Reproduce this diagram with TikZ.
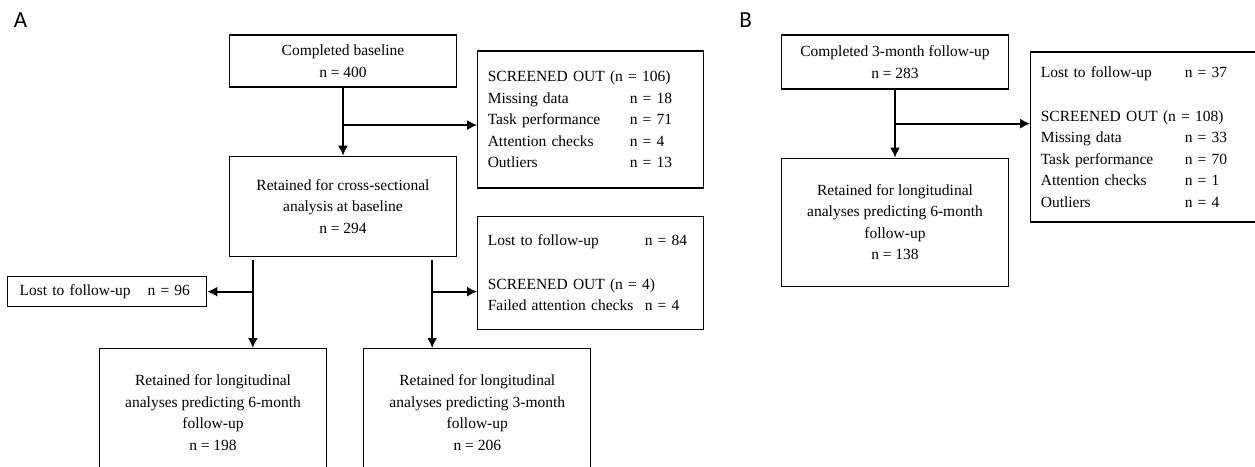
\documentclass[tikz,border=0pt]{standalone}
\usepackage{fontspec}
\setmainfont{Liberation Serif}
\newfontfamily\panelfont{Carlito}
\usepackage{tikz}
\usetikzlibrary{positioning}
\usetikzlibrary{arrows.meta}
\usetikzlibrary{calc}

\newcommand{\countrow}[3]{\makebox[#1][l]{#2}#3}

\begin{document}
\begin{tikzpicture}[x=1pt, y=-1pt,
font=\fontsize{15.5}{21.5}\selectfont,
flowbox/.style={rectangle, draw=black, line width=1.3pt, align=center, minimum width=227pt, inner sep=0pt},
listbox/.style={rectangle, draw=black, line width=1.3pt, align=left, anchor=north west, inner xsep=10pt, inner ysep=0pt},
flowarrow/.style={line width=1.8pt, -{Latex[length=10pt,width=10pt]}},
panellabel/.style={font=\panelfont\fontsize{23}{26}\selectfont, inner sep=0pt},
]
\useasboundingbox (0,0) rectangle (1255,466);
\clip (0,0) rectangle (1255,466);

%Panel A
\node[panellabel] (labA) at (20.5,20) {A};
\node[flowbox, minimum height=52pt] (base) at (343,61) {Completed baseline\\n = 400};
\node[listbox, text width=206pt, minimum height=137pt] (scr1) [below right=16pt and 20pt of base.north east]
  {SCREENED OUT (n = 106)\\
   \countrow{142pt}{Missing data}{n = 18}\\
   \countrow{142pt}{Task performance}{n = 71}\\
   \countrow{142pt}{Attention checks}{n = 4}\\
   \countrow{142pt}{Outliers}{n = 13}};
\node[flowbox, minimum height=100pt] (ret) [below=68pt of base] {Retained for cross-sectional\\analysis at baseline\\n = 294};
\node[listbox, text width=206pt, minimum height=113pt] (lost84) [below right=60pt and 20pt of ret.north east]
  {\countrow{157pt}{Lost to follow-up}{n = 84}\\[22pt]
   SCREENED OUT (n = 4)\\
   \countrow{157pt}{Failed attention checks}{n = 4}};
\node[listbox, inner xsep=12pt, text width=175pt, minimum height=30pt] (lost96) at (7,276)
  {\countrow{128pt}{Lost to follow-up}{n = 96}};
\node[flowbox, minimum height=128pt, anchor=north] (ret6) at (213,348) {Retained for longitudinal\\analyses predicting 6-month\\follow-up\\n = 198};
\node[flowbox, minimum height=128pt] (ret3) [right=36pt of ret6] {Retained for longitudinal\\analyses predicting 3-month\\follow-up\\n = 206};

%Lines A
\coordinate (splitA) at ($(base.south)!0.55!(ret.north)$);
\draw[flowarrow] (base) -- (ret);
\draw[flowarrow] (splitA) -- (splitA -| scr1.west);
\coordinate (ldrop) at ($(ret.south west)+(24,3)$);
\coordinate (rdrop) at ($(ret.south east)+(-25,3)$);
\coordinate (lsplit) at (ldrop |- lost96.east);
\coordinate (rsplit) at (rdrop |- lost96.east);
\draw[flowarrow] (ldrop) -- (ldrop |- ret6.north);
\draw[flowarrow] (rdrop) -- (rdrop |- ret3.north);
\draw[flowarrow] (lsplit) -- (lost96.east);
\draw[flowarrow] (rsplit) -- (rsplit -| lost84.west);

%Panel B
\node[panellabel] (labB) at (745.5,20) {B};
\node[flowbox, minimum height=54pt] (base3) at (895,62) {Completed 3-month follow-up\\n = 283};
\node[flowbox, minimum height=128pt] (ret6b) [below=68pt of base3] {Retained for longitudinal\\analyses predicting 6-month\\follow-up\\n = 138};
\node[listbox, text width=213pt, minimum height=170pt] (scr2) [below right=17pt and 21pt of base3.north east]
  {\countrow{144pt}{Lost to follow-up}{n = 37}\\[22pt]
   SCREENED OUT (n = 108)\\
   \countrow{144pt}{Missing data}{n = 33}\\
   \countrow{144pt}{Task performance}{n = 70}\\
   \countrow{144pt}{Attention checks}{n = 1}\\
   \countrow{144pt}{Outliers}{n = 4}};

%Lines B
\coordinate (splitB) at ($(base3.south)!0.5!(ret6b.north)$);
\draw[flowarrow] (base3) -- (ret6b);
\draw[flowarrow] (splitB) -- (splitB -| scr2.west);
\end{tikzpicture}
\end{document}
